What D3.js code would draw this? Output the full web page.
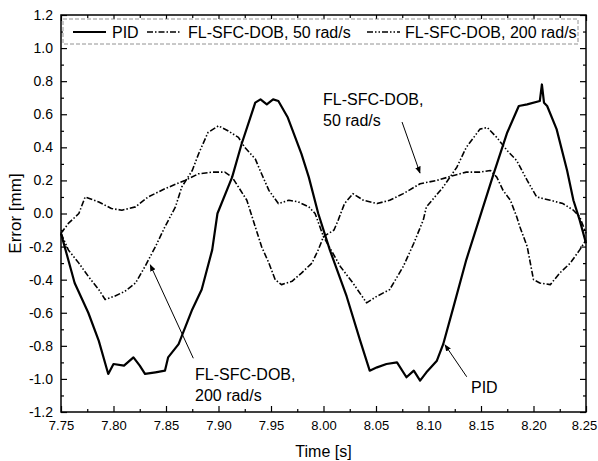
<!DOCTYPE html>
<html>
<head>
<meta charset="utf-8">
<script src="https://cdn.jsdelivr.net/npm/d3@7"></script>
<style>
  body { margin: 0; background: #fff; }
  svg { display: block; font-family: "Liberation Sans", Arial, sans-serif; }
</style>
</head>
<body>
<div id="chart"></div>
<script>
// values
var pidTime = [7.750, 7.763, 7.776, 7.786, 7.795, 7.800, 7.810, 7.819, 7.825, 7.830, 7.840, 7.849, 7.852, 7.862, 7.875, 7.884, 7.894, 7.899, 7.913, 7.922, 7.935, 7.940, 7.946, 7.952, 7.957, 7.966, 7.979, 7.986, 7.995, 8.006, 8.022, 8.035, 8.044, 8.051, 8.060, 8.070, 8.079, 8.086, 8.092, 8.098, 8.108, 8.114, 8.124, 8.136, 8.149, 8.162, 8.175, 8.186, 8.194, 8.206, 8.208, 8.210, 8.213, 8.222, 8.232, 8.238, 8.244, 8.250];
var pidErr = [-0.12, -0.42, -0.60, -0.77, -0.97, -0.91, -0.92, -0.87, -0.92, -0.97, -0.96, -0.95, -0.87, -0.79, -0.58, -0.46, -0.22, 0.00, 0.22, 0.42, 0.67, 0.69, 0.66, 0.69, 0.68, 0.58, 0.36, 0.22, 0.00, -0.22, -0.50, -0.77, -0.95, -0.93, -0.91, -0.90, -0.99, -0.95, -1.01, -0.96, -0.89, -0.79, -0.56, -0.28, -0.02, 0.24, 0.49, 0.65, 0.66, 0.68, 0.78, 0.67, 0.65, 0.51, 0.26, 0.08, -0.04, -0.18];

var dob50Time = [7.750, 7.757, 7.767, 7.773, 7.786, 7.798, 7.808, 7.821, 7.833, 7.849, 7.868, 7.881, 7.894, 7.906, 7.913, 7.919, 7.927, 7.932, 7.935, 7.941, 7.948, 7.954, 7.960, 7.970, 7.979, 7.989, 7.995, 8.000, 8.010, 8.014, 8.020, 8.028, 8.038, 8.051, 8.063, 8.076, 8.092, 8.108, 8.124, 8.136, 8.149, 8.159, 8.165, 8.171, 8.178, 8.184, 8.187, 8.194, 8.200, 8.206, 8.216, 8.225, 8.235, 8.244, 8.250];
var dob50Err = [-0.12, -0.06, 0.00, 0.10, 0.07, 0.03, 0.02, 0.04, 0.10, 0.15, 0.20, 0.24, 0.25, 0.25, 0.22, 0.16, 0.08, -0.02, -0.08, -0.20, -0.30, -0.40, -0.43, -0.41, -0.36, -0.30, -0.22, -0.14, -0.10, -0.04, 0.06, 0.12, 0.08, 0.06, 0.08, 0.12, 0.18, 0.20, 0.23, 0.25, 0.25, 0.26, 0.22, 0.14, 0.08, -0.02, -0.08, -0.20, -0.40, -0.42, -0.43, -0.36, -0.30, -0.22, -0.16];

var dob200Time = [7.750, 7.757, 7.767, 7.776, 7.786, 7.792, 7.801, 7.811, 7.821, 7.830, 7.840, 7.849, 7.859, 7.865, 7.875, 7.881, 7.890, 7.900, 7.909, 7.919, 7.925, 7.935, 7.941, 7.948, 7.957, 7.967, 7.976, 7.986, 7.992, 8.000, 8.016, 8.028, 8.041, 8.051, 8.063, 8.076, 8.086, 8.095, 8.098, 8.114, 8.127, 8.136, 8.149, 8.156, 8.165, 8.175, 8.184, 8.194, 8.203, 8.216, 8.228, 8.238, 8.244, 8.250];
var dob200Err = [-0.12, -0.22, -0.30, -0.38, -0.46, -0.52, -0.50, -0.47, -0.42, -0.32, -0.20, -0.08, 0.04, 0.16, 0.26, 0.36, 0.49, 0.53, 0.50, 0.46, 0.40, 0.33, 0.24, 0.14, 0.06, 0.08, 0.07, 0.04, 0.00, -0.14, -0.32, -0.42, -0.54, -0.50, -0.46, -0.32, -0.18, -0.04, 0.04, 0.16, 0.28, 0.40, 0.51, 0.52, 0.46, 0.38, 0.32, 0.20, 0.10, 0.08, 0.06, 0.02, -0.02, -0.12];

var xTicks = [7.75, 7.80, 7.85, 7.90, 7.95, 8.00, 8.05, 8.10, 8.15, 8.20, 8.25];
var yTicks = [-1.2, -1.0, -0.8, -0.6, -0.4, -0.2, 0.0, 0.2, 0.4, 0.6, 0.8, 1.0, 1.2];
var seriesNames = ["PID", "FL-SFC-DOB, 50 rad/s", "FL-SFC-DOB, 200 rad/s"];

var margin = {top: 15, right: 12, bottom: 49, left: 61},
    width = 598 - margin.left - margin.right,
    height = 461 - margin.top - margin.bottom;

var svg = d3.select("#chart")
  .append("svg")
    .attr("width", 598)
    .attr("height", 461)
  .append("g")
    .attr("transform", `translate(${margin.left},${margin.top})`);

var x = d3.scaleLinear().domain([7.75, 8.25]).range([0, width]);
var y = d3.scaleLinear().domain([-1.2, 1.2]).range([height, 0]);

// minor ticks (in between the labelled ones)
var xMinor = d3.range(7.775, 8.25, 0.05);
var yMinor = d3.range(-1.1, 1.2, 0.2);

function styleAxis(size) {
  return function(g) {
    g.select(".domain").remove();
    g.selectAll("line").attr("stroke", "#000").attr("stroke-width", 1.2);
    g.selectAll("text").attr("fill", "#000").style("font-size", size);
  };
}

// bottom
var xAxisG = svg.append("g").attr("transform", `translate(0,${height})`)
  .call(d3.axisBottom(x).tickValues(xTicks).tickSize(-6).tickPadding(9).tickFormat(d => d.toFixed(2)))
  .call(styleAxis("13px"));
// last label sits right at the page edge, pull it in a little
xAxisG.selectAll(".tick text").filter(d => d === 8.25).attr("dx", "-2");
svg.append("g").attr("transform", `translate(0,${height})`)
  .call(d3.axisBottom(x).tickValues(xMinor).tickSize(-3).tickFormat(""))
  .call(styleAxis("13px"));
// top
svg.append("g")
  .call(d3.axisTop(x).tickValues(xTicks).tickSize(-6).tickFormat(""))
  .call(styleAxis("13px"));
svg.append("g")
  .call(d3.axisTop(x).tickValues(xMinor).tickSize(-3).tickFormat(""))
  .call(styleAxis("13px"));
// left
svg.append("g")
  .call(d3.axisLeft(y).tickValues(yTicks).tickSize(-6).tickPadding(8).tickFormat(d => d.toFixed(1)))
  .call(styleAxis("14px"));
svg.append("g")
  .call(d3.axisLeft(y).tickValues(yMinor).tickSize(-3).tickFormat(""))
  .call(styleAxis("14px"));
// right
svg.append("g").attr("transform", `translate(${width},0)`)
  .call(d3.axisRight(y).tickValues(yTicks).tickSize(-6).tickFormat(""))
  .call(styleAxis("14px"));
svg.append("g").attr("transform", `translate(${width},0)`)
  .call(d3.axisRight(y).tickValues(yMinor).tickSize(-3).tickFormat(""))
  .call(styleAxis("14px"));

// frame
svg.append("rect")
  .attr("width", width).attr("height", height)
  .attr("fill", "none").attr("stroke", "#000").attr("stroke-width", 1.5);

// axis titles
svg.append("text")
  .attr("x", width / 2).attr("y", height + 45)
  .attr("text-anchor", "middle")
  .style("font-size", "16px")
  .text("Time [s]");
svg.append("text")
  .attr("transform", `translate(${-40},${height / 2}) rotate(-90)`)
  .attr("text-anchor", "middle")
  .style("font-size", "17px")
  .text("Error [mm]");

// curves
var line = d3.line().x(d => x(d[0])).y(d => y(d[1]));
var series = [
  {name: seriesNames[0], data: d3.zip(pidTime, pidErr), dash: null, w: 2.2},
  {name: seriesNames[1], data: d3.zip(dob50Time, dob50Err), dash: "6,2,1.5,2", w: 1.6},
  {name: seriesNames[2], data: d3.zip(dob200Time, dob200Err), dash: "6,2,1.5,2,1.5,2", w: 1.6}
];

svg.append("g")
  .selectAll("path")
  .data(series)
  .join("path")
    .attr("d", d => line(d.data))
    .attr("fill", "none")
    .attr("stroke", "#000")
    .attr("stroke-width", d => d.w)
    .attr("stroke-linejoin", "round")
    .attr("stroke-dasharray", d => d.dash);

// legend
var legend = svg.append("g");
legend.append("rect")
  .attr("x", 2).attr("y", 4).attr("width", 515).attr("height", 25)
  .attr("fill", "#fff").attr("stroke", "#777").attr("stroke-width", 0.8)
  .attr("stroke-dasharray", "4,2");
var legendX = [[12, 45, 51], [86, 119, 127], [306, 339, 344]];
series.forEach(function(s, i) {
  legend.append("line")
    .attr("x1", legendX[i][0]).attr("x2", legendX[i][1])
    .attr("y1", 17).attr("y2", 17)
    .attr("stroke", "#000").attr("stroke-width", i ? 1.3 : 1.8)
    .attr("stroke-dasharray", s.dash);
  legend.append("text")
    .attr("x", legendX[i][2]).attr("y", 23)
    .style("font-size", "16px")
    .text(s.name);
});

// annotations
svg.append("defs").append("marker")
  .attr("id", "arrow")
  .attr("viewBox", "0 0 10 10")
  .attr("refX", 9).attr("refY", 5)
  .attr("markerWidth", 7).attr("markerHeight", 7)
  .attr("orient", "auto")
  .append("path")
    .attr("d", "M0,1 L10,5 L0,9 Z")
    .attr("fill", "#000");

function note(lines, tx, ty, from, to) {
  var t = svg.append("text").style("font-size", "16px");
  lines.forEach(function(l, i) {
    t.append("tspan").attr("x", tx).attr("y", ty + i * 21).text(l);
  });
  svg.append("line")
    .attr("x1", x(from[0])).attr("y1", y(from[1]))
    .attr("x2", x(to[0])).attr("y2", y(to[1]))
    .attr("stroke", "#000").attr("stroke-width", 1)
    .attr("marker-end", "url(#arrow)");
}

note(["FL-SFC-DOB,", "50 rad/s"], 262, 90, [8.0748, 0.553], [8.0919, 0.245]);
note(["FL-SFC-DOB,", "200 rad/s"], 134, 365, [7.876, -0.875], [7.835, -0.31]);
note(["PID"], 410, 378, [8.1364, -0.987], [8.1157, -0.794]);
</script>
</body>
</html>
